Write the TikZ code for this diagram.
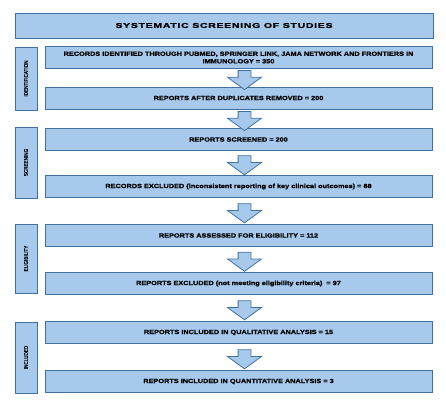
\documentclass[tikz,border=0pt]{standalone}
\usepackage{fontspec}
\setmainfont{Liberation Sans}
\newfontfamily\boxfont[FakeStretch=1.22,FakeBold=1.2]{Liberation Sans}
\newfontfamily\titlefont[FakeStretch=1.5,LetterSpace=10,FakeBold=1.5]{Liberation Sans}
\newfontfamily\phasefont[FakeStretch=0.85,FakeBold=0.8]{Liberation Sans}
\usetikzlibrary{shapes.arrows,calc}

\definecolor{boxfill}{RGB}{167,202,236}
\definecolor{boxline}{RGB}{65,113,156}

\begin{document}
\begin{tikzpicture}[x=1pt,y=-1pt,
    stage/.style={draw=boxline, fill=boxfill, line width=0.9pt, minimum width=387pt,
        minimum height=22pt, align=center, inner sep=1pt,
        font=\boxfont\fontsize{6}{7.5}\selectfont\bfseries},
    phase/.style={draw=boxline, fill=boxfill, line width=0.9pt, rotate=90,
        minimum height=22pt, inner sep=0pt, font=\phasefont\fontsize{5.4}{6}\selectfont},
    downarrow/.style={single arrow, draw=boxline, fill=boxfill, line width=0.8pt,
        rotate=-90, minimum height=19pt, minimum width=33pt, inner sep=6pt,
        single arrow head extend=10.5pt, single arrow tip angle=108,
        single arrow head indent=0pt}]
        \useasboundingbox (0,0) rectangle (446,412);

        % Title
        \node[draw=boxline, fill=boxfill, line width=0.9pt, minimum width=418pt,
            minimum height=25pt, font=\titlefont\fontsize{7}{8}\selectfont\bfseries]
            (title) at (224,25.5) {SYSTEMATIC SCREENING OF STUDIES};

        % Phases
        \node[phase, minimum width=63pt] (ident) at (26,78.5) {IDENTIFICATION};
        \node[phase, minimum width=71pt] (screen) at (26,162.5) {SCREENING};
        \node[phase, minimum width=69pt] (elig) at (26,258.5) {ELIGIBILITY};
        \node[phase, minimum width=71pt] (incl) at (26,357.5) {INCLUDED};

        % Steps
        \node[stage] (records) at (238.5,57.5) {RECORDS IDENTIFIED THROUGH PUBMED, SPRINGER LINK, JAMA NETWORK AND FRONTIERS IN\\IMMUNOLOGY = 350};
        \node[stage] (nodup) at (238.5,98) {REPORTS AFTER DUPLICATES REMOVED = 200};
        \node[stage] (screened) at (238.5,139.5) {REPORTS SCREENED = 200};
        \node[stage] (recexcl) at (238.5,186.5) {RECORDS EXCLUDED (inconsistent reporting of key clinical outcomes) = 88};
        \node[stage] (assessed) at (238.5,235.5) {REPORTS ASSESSED FOR ELIGIBILITY = 112};
        \node[stage] (repexcl) at (238.5,283.5) {REPORTS EXCLUDED (not meeting eligibility criteria)\ \ = 97};
        \node[stage] (qual) at (238.5,332.5) {REPORTS INCLUDED IN QUALITATIVE ANALYSIS = 15};
        \node[stage] (quant) at (238.5,381.5) {REPORTS INCLUDED IN QUANTITATIVE ANALYSIS = 3};

        % Block arrows between steps
        \foreach \a/\b in {records/nodup, nodup/screened, screened/recexcl, recexcl/assessed,
                assessed/repexcl, repexcl/qual, qual/quant}
            \node[downarrow] (arr-\a) at ($(\a.south)!0.5!(\b.north)+(6,0)$) {};
    \end{tikzpicture}
\end{document}
